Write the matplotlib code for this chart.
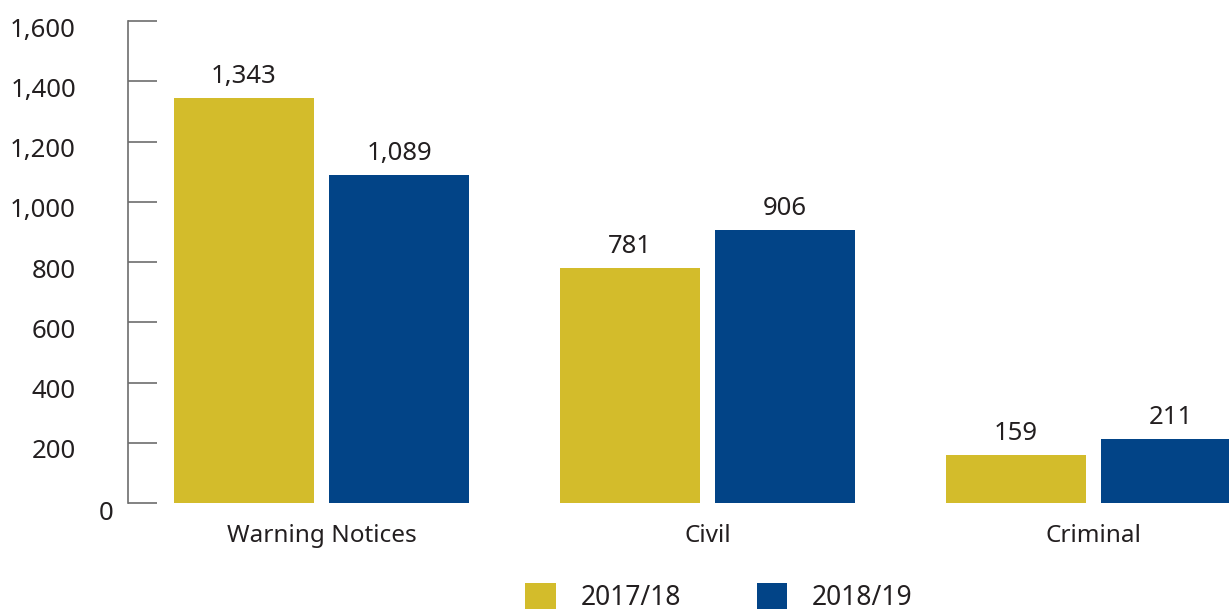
import numpy as np
import matplotlib
matplotlib.use("Agg")
import matplotlib.pyplot as plt
import matplotlib.transforms as mtransforms

plt.rcParams['font.family'] = ['Noto Sans', 'DejaVu Sans']

categories = ["Warning Notices", "Civil", "Criminal"]
series_names = ["2017/18", "2018/19"]
vals_1718 = [1343, 781, 159]
vals_1819 = [1089, 906, 211]
yticks = [0, 200, 400, 600, 800, 1000, 1200, 1400, 1600]

c_yellow = "#D3BC2B"
c_blue = "#024487"
txt = "#231F20"

fig = plt.figure(figsize=(12.29, 6.10), dpi=100)
ax = fig.add_axes([128 / 1229, 1 - 503 / 610, 1 - 128 / 1229, (503 - 21) / 610])

x = np.arange(len(categories))
w = 140 / 386
off = 155 / 2 / 386
b1 = ax.bar(x - off, vals_1718, w, color=c_yellow, label=series_names[0])
b2 = ax.bar(x + off, vals_1819, w, color=c_blue, label=series_names[1])

for bars in (b1, b2):
    for r in bars:
        ax.annotate("{:,}".format(int(r.get_height())),
                    (r.get_x() + r.get_width() / 2, r.get_height()),
                    xytext=(0, 6.5), textcoords="offset points",
                    ha="center", va="bottom", fontsize=18.5, color=txt)

ax.set_xlim(-0.5013, 2.351)
ax.set_ylim(0, 1600)

for s in ["top", "right", "bottom"]:
    ax.spines[s].set_visible(False)
ax.spines["left"].set_color("#6d6d6d")
ax.spines["left"].set_linewidth(1.2)

ax.set_yticks(yticks)
ax.set_yticklabels([])
ax.tick_params(axis="y", direction="in", length=21, width=1.2, color="#6d6d6d")
trans = mtransforms.blended_transform_factory(fig.transFigure, ax.transData)
for t in yticks:
    if t == 0:
        ax.text(113 / 1229, t, "0", ha="right", va="center", fontsize=18.5, color=txt,
                transform=trans + mtransforms.ScaledTranslation(0, -10 / 100, fig.dpi_scale_trans))
    else:
        ax.text(76 / 1229, t, "{:,}".format(t), ha="right", va="center",
                fontsize=18.5, color=txt,
                transform=trans + mtransforms.ScaledTranslation(0, -9 / 100, fig.dpi_scale_trans))

ax.set_xticks(x)
ax.set_xticklabels(categories, fontsize=17.5, color=txt)
ax.tick_params(axis="x", length=0, pad=15)

fig.legend(loc="center", bbox_to_anchor=(0.585, 0.02), ncol=2, frameon=False,
           fontsize=19, handlelength=1.15, handleheight=1.15, handletextpad=0.95,
           columnspacing=2.85, labelcolor=txt)

fig.savefig("out.png", dpi=100)
